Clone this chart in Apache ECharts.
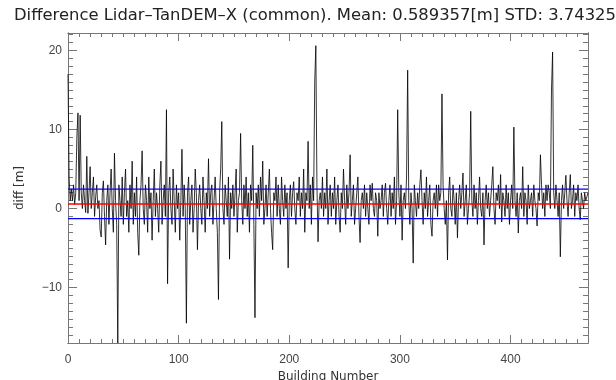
<!DOCTYPE html>
<html><head><meta charset="utf-8">
<script src="https://cdn.jsdelivr.net/npm/echarts@6/dist/echarts.min.js"></script>
<style>html,body{margin:0;padding:0;background:#fff}#c{width:616px;height:380px}</style>
</head><body><div id="c"></div>
<script>
const TITLE = 'Difference Lidar\u2013TanDEM\u2013X (common). Mean: 0.589357[m] STD: 3.74325';
const MEAN = 0.589357;
const STD = 3.74325;
const X_LABELS = [0, 100, 200, 300, 400];
const Y_LABELS = [-10, 0, 10, 20];
const diff = [
17, 4, 1, 2.5, 1, 3, 0.5, 2, 9, 12.1,
1, 11.8, 2, 0, 3, 1, -0.5, 6.6, -0.6, 2,
5.3, 0, 2, 4, -1, 1.5, 3, 0, 1, -2.7,
-3.6, 2, 3.5, -1, -4.6, 1, 3, -2, 2, 5,
0, -3, 7, 1, -2, -17, 3, 1, -1, 4,
-2, 2, 5, -1, 1, -3, 3, 0, 6, -2,
2, -1, 4, -3, -5.9, 1, 3, 7.3, 0, -2,
3, 1, -3, 4, 0, 2, -4, 1, 5, -1,
2, 0, -3, 3, 6, -2, 1, 3, -1, 12.5,
-9.5, 2, 4, 0, -2, 5, 1, -3, 3, 0,
2, -4, 1, 7.5, -1, 3, 0, -14.5, 2, 4,
-2, 1, 3, -3, 0, 5, 2, -5.2, 1, 3,
0, -2, 4, 1, -3, 2, 0, 6.3, -1, 2,
3, -2, 1, 4, 0, -3, -11.5, 2, 5, 11,
0, -2, 3, 1, -1, 4, -6.4, 2, 0, 3,
-1, 2, 5, -3, 1, 2, 9.5, 1, -2, 3,
0, 4, -1, 2, -3, 3, 1, 8, -2, -13.8,
2, 0, 3, -1, 4, 1, 6, -2, 0, 3,
-1, 2, 5, 0, -3, -5.2, 2, 1, 4, -1,
3, 0, -2, 4, 1, -1, 3, 0, 2, -7.5,
1, 3, -1, 2, 3.4, 0, -2, 2, 1, 4,
-1, 2, 0, 5, -3, 2, 1, 8.5, 0, 3,
-2, 4, 1, 16, 20.6, 3, -4.2, 1, 2, 0,
4, -1, 2, 0, 5, -2, 1, 3, -1, 2,
0, 4, -2, 1, 3, -1, -3, 2, 0, 5,
1, -2, 3, 0, 2, 6.8, -1, 1, 3, -2,
0, 2, 4, -1, -4.3, 1, 2, 0, 3, -1,
2, 0, -2, 3, 1, 3.2, 0, -1, 2, 1,
-3.5, 2, 0, 1, 3, -1, 2, 3.2, 0, -2,
1, 3, -1, 2, 0, 4, -2, 1, 12.5, 2,
-1, 3, -4, 1, 2, 0, 4, 17.5, 1, -2,
2, 0, -6.9, 3, 1, -1, 2, 0, 3, 4.9,
1, -2, 2, 0, 4, -1, 1, 3, -2, -3.5,
1, 2, 0, 3, -1, 3, 1, 2, 14.5, 3,
0, -2, 1, -6.5, 2, 4, 0, -1, 3, 1,
-2, 2, -3.7, 1, 3, 0, 2, 4.5, -1, 1,
3, -2, 0, 2, 12.3, 1, -1, 3, 0, 2,
-2, 1, 4, 0, -1, 2, -4.6, 1, 3, 0,
2, -1, 1, 3, 5.3, 0, -2, 2, 1, 3,
0, 4.3, -1.7, 2, 1, -1, 3, 0, 2, -2,
1, 3, 0, 10.3, 1, -1, 2, -3.1, 1, 2,
0, 5.3, -1, 2, 1, -2, 3, 0, 1, 2,
-1, 3, 1, 0, -2.2, 2, 1, 6.8, 3, 0,
2, -1, 3, 1, 3, 2, 0, 15, 19.8, 2,
0, 3, 1, -1, 2, -6.1, 1, 3, 0, 2,
4.2, 1, -1, 2, 4.3, 0, 1, 3, -1, 2,
1, 3, 0, -1.4, 2, 1, 0, 2, 1, 1.5,
2
];
const X_MIN = 0, X_MAX = 470, Y_MIN = -17, Y_MAX = 22.2;

const minorX = []; for (let v = 10; v < X_MAX; v += 10) if (v % 100) minorX.push(v);
const minorY = []; for (let v = -16; v <= 22; v += 1) if (v % 10) minorY.push(v);

const font = 'DejaVu Sans';
const frame = '#777';
function xAx(pos, labels, ticks, len) {
  return {type: 'value', position: pos, min: X_MIN, max: X_MAX,
    axisLine: {show: true, onZero: false, lineStyle: {color: frame, width: 1}},
    axisTick: {show: true, inside: true, length: len, customValues: ticks, lineStyle: {color: frame}},
    axisLabel: labels ? {show: true, customValues: X_LABELS, margin: 11, color: '#444', fontFamily: 'Liberation Sans', fontSize: 12} : {show: false},
    splitLine: {show: false}};
}
function yAx(pos, labels, ticks, len) {
  return {type: 'value', position: pos, min: Y_MIN, max: Y_MAX,
    axisLine: {show: true, onZero: false, lineStyle: {color: frame, width: 1}},
    axisTick: {show: true, inside: true, length: len, customValues: ticks, lineStyle: {color: frame}},
    axisLabel: labels ? {show: true, customValues: Y_LABELS, margin: 6, color: '#444', fontFamily: 'Liberation Sans', fontSize: 12,
      formatter: v => (v < 0 ? '\u2212' + (-v) : '' + v)} : {show: false},
    splitLine: {show: false}};
}
const xs = [xAx('bottom', true, X_LABELS, 8), xAx('bottom', false, minorX, 4), xAx('top', false, X_LABELS, 8), xAx('top', false, minorX, 4)];
xs[0].name = 'Building Number'; xs[0].nameLocation = 'middle'; xs[0].nameGap = 24;
xs[0].nameTextStyle = {color: '#333', fontFamily: font, fontSize: 12};
const ys = [yAx('left', true, Y_LABELS, 9), yAx('left', false, minorY, 5), yAx('right', false, Y_LABELS, 9), yAx('right', false, minorY, 5)];
ys[0].name = 'diff [m]'; ys[0].nameLocation = 'middle'; ys[0].nameGap = 42; ys[0].nameRotate = 90;
ys[0].nameTextStyle = {color: '#333', fontFamily: font, fontSize: 12};

const chart = echarts.init(document.getElementById('c'), null, {renderer: 'canvas'});
chart.setOption({
  animation: false,
  backgroundColor: '#fff',
  title: {text: TITLE, left: 9, top: 3, textStyle: {fontFamily: font, fontWeight: 'normal', fontSize: 16.4, color: '#222'}},
  grid: {left: 68, right: 28, top: 33, bottom: 37, containLabel: false, outerBoundsMode: 'none'},
  xAxis: xs,
  yAxis: ys,
  series: [
    {type: 'line', data: diff.map((v, i) => [i, v]), showSymbol: false, symbol: 'none',
      lineStyle: {color: '#000', width: 0.8}, z: 2},
    {type: 'line', data: [[X_MIN, MEAN], [X_MAX, MEAN]], symbol: 'none', lineStyle: {color: '#ff0000', width: 1.5}, z: 4},
    {type: 'line', data: [[X_MIN, MEAN + STD / 2], [X_MAX, MEAN + STD / 2]], symbol: 'none', lineStyle: {color: '#0000ff', width: 1.3}, z: 3},
    {type: 'line', data: [[X_MIN, MEAN - STD / 2], [X_MAX, MEAN - STD / 2]], symbol: 'none', lineStyle: {color: '#0000ff', width: 1.3}, z: 3}
  ]
});
</script></body></html>
